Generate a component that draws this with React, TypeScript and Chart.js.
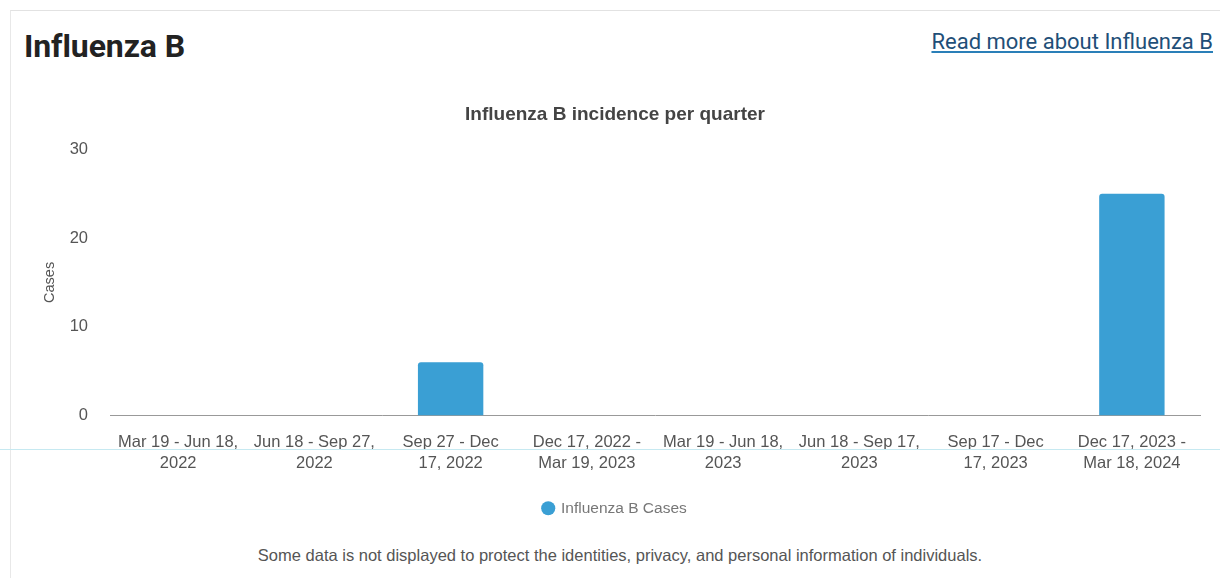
import React, { useEffect, useRef } from "react";
import { Chart, registerables } from "chart.js";

Chart.register(...registerables);

const categories: string[][] = [
  ["Mar 19 - Jun 18,", "2022"],
  ["Jun 18 - Sep 27,", "2022"],
  ["Sep 27 - Dec", "17, 2022"],
  ["Dec 17, 2022 -", "Mar 19, 2023"],
  ["Mar 19 - Jun 18,", "2023"],
  ["Jun 18 - Sep 17,", "2023"],
  ["Sep 17 - Dec", "17, 2023"],
  ["Dec 17, 2023 -", "Mar 18, 2024"],
];
const caseValues: number[] = [0, 0, 6, 0, 0, 0, 0, 25];
const seriesName = "Influenza B Cases";
const yTicks: number[] = [0, 10, 20, 30];

const FONT = "'Liberation Sans', Arial, sans-serif";

export default function App() {
  const ref = useRef<HTMLCanvasElement | null>(null);

  useEffect(() => {
    if (!ref.current) return;
    const chart = new Chart(ref.current, {
      type: "bar",
      data: {
        labels: categories,
        datasets: [
          {
            label: seriesName,
            data: caseValues,
            backgroundColor: "#3a9fd4",
            borderRadius: 3,
            borderSkipped: "bottom",
            categoryPercentage: 0.8,
            barPercentage: 0.6,
          },
        ],
      },
      options: {
        animation: false,
        responsive: false,
        maintainAspectRatio: false,
        layout: { padding: { left: 0, right: 10, top: 0, bottom: 0 } },
        plugins: {
          title: {
            display: true,
            text: "Influenza B incidence per quarter",
            color: "#444",
            font: { family: FONT, size: 19, weight: "bold" },
            padding: { top: 5.5, bottom: 23 },
          },
          legend: {
            display: true,
            position: "bottom",
            labels: {
              usePointStyle: true,
              pointStyle: "circle",
              boxWidth: 10,
              boxHeight: 10,
              color: "#777",
              font: { family: FONT, size: 15.5 },
              padding: 10,
            },
          },
          tooltip: { enabled: false },
        },
        scales: {
          x: {
            grid: { display: false, drawTicks: false },
            border: { display: true, color: "#999", width: 1 },
            ticks: {
              color: "#555",
              font: { family: FONT, size: 16.5, lineHeight: 1.273 },
              padding: 16.5,
              maxRotation: 0,
              autoSkip: false,
            },
          },
          y: {
            min: 0,
            max: 30,
            afterBuildTicks: (scale: any) => {
              scale.ticks = yTicks.map((v) => ({ value: v }));
            },
            afterFit: (scale: any) => {
              scale.width = 80;
            },
            grid: { display: false, drawTicks: false },
            border: { display: false },
            ticks: {
              color: "#555",
              font: { family: FONT, size: 16.5 },
              padding: 22,
            },
            title: {
              display: true,
              text: "Cases",
              color: "#555",
              font: { family: FONT, size: 14.5 },
              padding: { top: 11, bottom: 0 },
            },
          },
        },
      },
    });
    return () => chart.destroy();
  }, []);

  return (
    <div
      style={{
        position: "absolute",
        left: 0,
        top: 0,
        width: 1220,
        height: 578,
        background: "#fff",
        overflow: "hidden",
      }}
    >
      <div
        style={{
          position: "absolute",
          left: 10,
          top: 10,
          width: 1215,
          height: 580,
          borderTop: "1px solid #e2e2e2",
          borderLeft: "1px solid #e8e8e8",
        }}
      />
      <div
        style={{
          position: "absolute",
          left: 24,
          top: 27,
          fontFamily: "Roboto, sans-serif",
          fontWeight: 700,
          fontSize: 32,
          lineHeight: "38px",
          color: "#222",
          letterSpacing: -0.1,
        }}
      >
        Influenza B
      </div>
      <div
        style={{
          position: "absolute",
          right: 7,
          top: 28,
          fontFamily: "Roboto, sans-serif",
          fontSize: 22,
          lineHeight: "28px",
          color: "#1f4f78",
          textDecoration: "underline",
          textDecorationColor: "#2a7fb8",
        }}
      >
        Read more about Influenza B
      </div>
      <canvas
        ref={ref}
        width={1180}
        height={428}
        style={{ position: "absolute", left: 30, top: 98, width: 1180, height: 428 }}
      />
      <div
        style={{
          position: "absolute",
          left: 0,
          top: 449,
          width: 1220,
          height: 1,
          background: "#c6e9f1",
        }}
      />
      <div
        style={{
          position: "absolute",
          left: 0,
          width: 1240,
          top: 545,
          textAlign: "center",
          fontFamily: FONT,
          fontSize: 16.5,
          lineHeight: "20px",
          color: "#555",
        }}
      >
        Some data is not displayed to protect the identities, privacy, and personal information of individuals.
      </div>
    </div>
  );
}
